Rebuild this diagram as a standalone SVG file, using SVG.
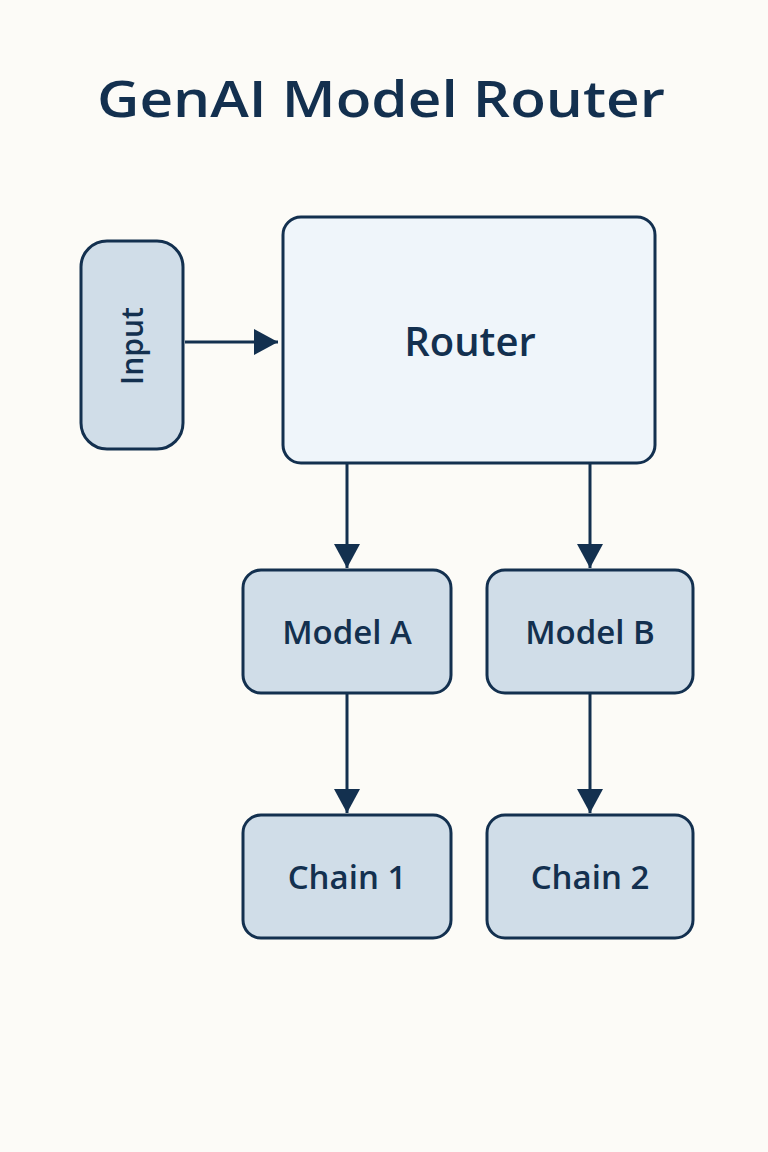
<svg xmlns="http://www.w3.org/2000/svg" width="768" height="1152" viewBox="0 0 768 1152">
<style>
.n{fill:#d0dde8;stroke:#13304f;stroke-width:3}
.t{font-family:"Open Sans","Liberation Sans",sans-serif;font-weight:600;fill:#13304f;text-anchor:middle}
.c{stroke:#13304f;stroke-width:3;fill:none}
</style>
<defs><marker id="a" markerWidth="24" markerHeight="26" refX="24" refY="13" orient="auto" markerUnits="userSpaceOnUse" viewBox="0 0 24 26"><path d="M0,0L24,13L0,26z" fill="#13304f"/></marker></defs>
<rect width="768" height="1152" fill="#fcfbf7"/>
<text class="t" x="381" y="117" font-size="50" font-weight="700" textLength="568" lengthAdjust="spacingAndGlyphs">GenAI Model Router</text>
<g id="input"><rect class="n" x="81" y="241" width="102" height="208" rx="26"/><text class="t" font-size="30" transform="translate(143,346) rotate(-90)">Input</text></g>
<g id="router"><rect x="283" y="217" width="372" height="246" rx="18" fill="#eff5fa" stroke="#13304f" stroke-width="3"/><text class="t" x="470" y="356" font-size="40">Router</text></g>
<g id="modelA"><rect class="n" x="243" y="570" width="208" height="123" rx="18"/><text class="t" x="347" y="644" font-size="33">Model A</text></g>
<g id="modelB"><rect class="n" x="487" y="570" width="206" height="123" rx="18"/><text class="t" x="590" y="644" font-size="33">Model B</text></g>
<g id="chain1"><rect class="n" x="243" y="815" width="208" height="123" rx="18"/><text class="t" x="347" y="889" font-size="33">Chain 1</text></g>
<g id="chain2"><rect class="n" x="487" y="815" width="206" height="123" rx="18"/><text class="t" x="590" y="889" font-size="33">Chain 2</text></g>
<g id="connectors">
<path class="c" d="M185,342H278" marker-end="url(#a)"/>
<path class="c" d="M347,463V568" marker-end="url(#a)"/>
<path class="c" d="M590,463V568" marker-end="url(#a)"/>
<path class="c" d="M347,693V813" marker-end="url(#a)"/>
<path class="c" d="M590,693V813" marker-end="url(#a)"/>
</g>
</svg>
